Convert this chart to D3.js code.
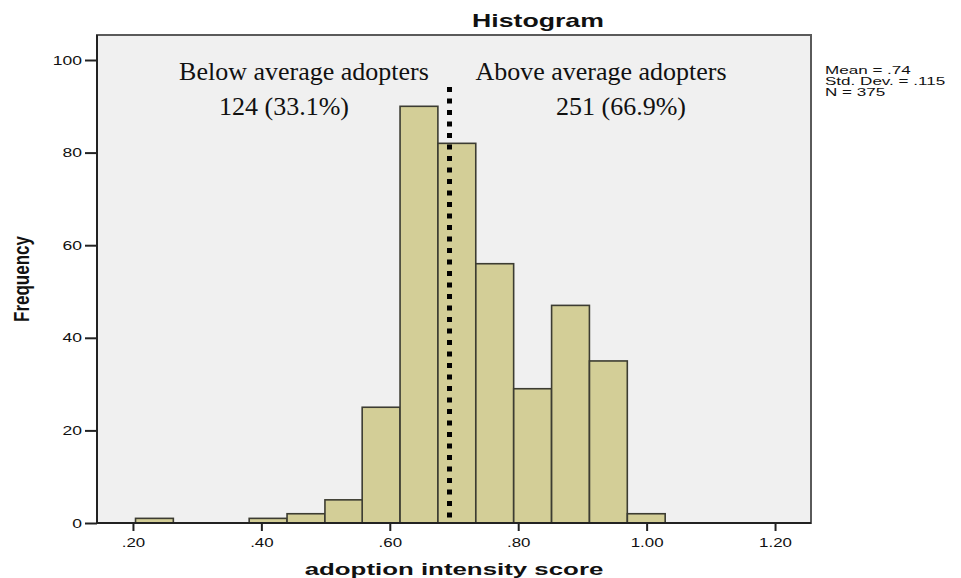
<!DOCTYPE html>
<html lang="en">
<head>
    <meta charset="UTF-8">
    <title>Histogram</title>
    <script src="https://cdnjs.cloudflare.com/ajax/libs/d3/7.8.2/d3.min.js"></script>
    <style>
        body { margin: 0; background: #fff; }
        svg text { fill: #111; }
        .sans { font-family: "Liberation Sans", Arial, sans-serif; }
        .serif { font-family: "Liberation Serif", "Times New Roman", serif; }
    </style>
</head>
<body>
    <div id="chart"></div>
    <script>
        // Bin starts (bin width ~0.0589) and frequencies
        const binStarts = [0.204, 0.263, 0.322, 0.381, 0.440, 0.499, 0.557, 0.616, 0.675, 0.734, 0.793, 0.852, 0.911, 0.970];
        const binWidth = 0.0589;
        const counts = [1, 0, 0, 1, 2, 5, 25, 90, 82, 56, 29, 47, 35, 2];
        const xTicks = [0.2, 0.4, 0.6, 0.8, 1.0, 1.2];
        const xTickLabels = [".20", ".40", ".60", ".80", "1.00", "1.20"];
        const yTicks = [0, 20, 40, 60, 80, 100];
        const cutoff = 0.693;
        const stats = ["Mean = .74", "Std. Dev. = .115", "N = 375"];
        const groups = [
            { title: "Below average adopters", value: "124 (33.1%)" },
            { title: "Above average adopters", value: "251 (66.9%)" }
        ];

        const width = 961, height = 578;
        const margin = { left: 97, right: 150, top: 35, bottom: 55 };

        const svg = d3.select("#chart").append("svg")
            .attr("width", width)
            .attr("height", height);

        const x = d3.scaleLinear()
            .domain([0.144, 1.256])
            .range([margin.left, width - margin.right]);
        const y = d3.scaleLinear()
            .domain([0, 105.4])
            .range([height - margin.bottom, margin.top]);

        // stretch text horizontally like the SPSS export
        function stretch(sel, k) {
            sel.each(function () {
                const w = this.getComputedTextLength();
                d3.select(this)
                    .attr("textLength", w * k)
                    .attr("lengthAdjust", "spacingAndGlyphs");
            });
        }

        // plot background
        svg.append("rect")
            .attr("x", x.range()[0])
            .attr("y", y.range()[1])
            .attr("width", x.range()[1] - x.range()[0])
            .attr("height", y.range()[0] - y.range()[1])
            .attr("fill", "#f0f0f0")
            .attr("stroke", "#5a5a5a")
            .attr("stroke-width", 2);

        // bars
        svg.append("g")
            .selectAll("rect")
            .data(binStarts.map((s, i) => ({ s, c: counts[i] })).filter(d => d.c > 0))
            .enter()
            .append("rect")
            .attr("x", d => x(d.s))
            .attr("y", d => y(d.c))
            .attr("width", d => x(d.s + binWidth) - x(d.s))
            .attr("height", d => y(0) - y(d.c))
            .attr("fill", "#d3ce97")
            .attr("stroke", "#3c3c32")
            .attr("stroke-width", 1.6);

        // dotted cutoff line
        svg.append("line")
            .attr("x1", x(cutoff)).attr("x2", x(cutoff))
            .attr("y1", 87).attr("y2", y(0) - 4)
            .attr("stroke", "#000")
            .attr("stroke-width", 5)
            .attr("stroke-dasharray", "5,6.5");

        // axes
        const xAxis = svg.append("g")
            .attr("transform", `translate(0,${y(0)})`)
            .call(d3.axisBottom(x).tickValues(xTicks).tickSize(8).tickFormat((d, i) => xTickLabels[i]));
        const yAxis = svg.append("g")
            .attr("transform", `translate(${x.range()[0]},0)`)
            .call(d3.axisLeft(y).tickValues(yTicks).tickSize(12).tickPadding(3));
        [xAxis, yAxis].forEach(a => {
            a.select(".domain").remove();
            a.selectAll("line").attr("stroke", "#222").attr("stroke-width", 2);
            a.selectAll("text")
                .attr("class", "sans")
                .attr("font-size", 12.5)
                .attr("fill", "#222");
        });
        xAxis.selectAll("text").attr("dy", "1.05em");
        xAxis.selectAll("text").call(stretch, 1.35);
        yAxis.selectAll("text").call(stretch, 1.4);

        // axis lines
        svg.append("line")
            .attr("x1", x.range()[0]).attr("x2", x.range()[1])
            .attr("y1", y(0)).attr("y2", y(0))
            .attr("stroke", "#222").attr("stroke-width", 2);
        svg.append("line")
            .attr("x1", x.range()[0]).attr("x2", x.range()[0])
            .attr("y1", y.range()[1]).attr("y2", y(0))
            .attr("stroke", "#222").attr("stroke-width", 2);

        // title
        svg.append("text")
            .attr("class", "sans")
            .attr("x", 538).attr("y", 27)
            .attr("text-anchor", "middle")
            .attr("font-size", 18.5)
            .attr("font-weight", "bold")
            .text("Histogram")
            .call(stretch, 1.44);

        // axis titles
        svg.append("text")
            .attr("class", "sans")
            .attr("x", (x.range()[0] + x.range()[1]) / 2).attr("y", 575)
            .attr("text-anchor", "middle")
            .attr("font-size", 17)
            .attr("font-weight", "bold")
            .text("adoption intensity score")
            .call(stretch, 1.52);
        svg.append("text")
            .attr("class", "sans")
            .attr("transform", `translate(29,${(y.range()[0] + y.range()[1]) / 2}) rotate(-90) scale(1,1.25)`)
            .attr("text-anchor", "middle")
            .attr("font-size", 17)
            .attr("font-weight", "bold")
            .text("Frequency");

        // stats box
        svg.append("g").selectAll("text")
            .data(stats)
            .enter()
            .append("text")
            .attr("class", "sans")
            .attr("x", 825)
            .attr("y", (d, i) => 74 + i * 11.2)
            .attr("font-size", 11)
            .text(d => d)
            .call(stretch, 1.55);

        // group annotations
        const groupX = [[304, 284], [601, 621]];
        groups.forEach((g, i) => {
            svg.append("text")
                .attr("class", "serif")
                .attr("x", groupX[i][0]).attr("y", 80)
                .attr("text-anchor", "middle")
                .attr("font-size", 26)
                .text(g.title);
            svg.append("text")
                .attr("class", "serif")
                .attr("x", groupX[i][1]).attr("y", 115)
                .attr("text-anchor", "middle")
                .attr("font-size", 26)
                .text(g.value);
        });
    </script>
</body>
</html>
